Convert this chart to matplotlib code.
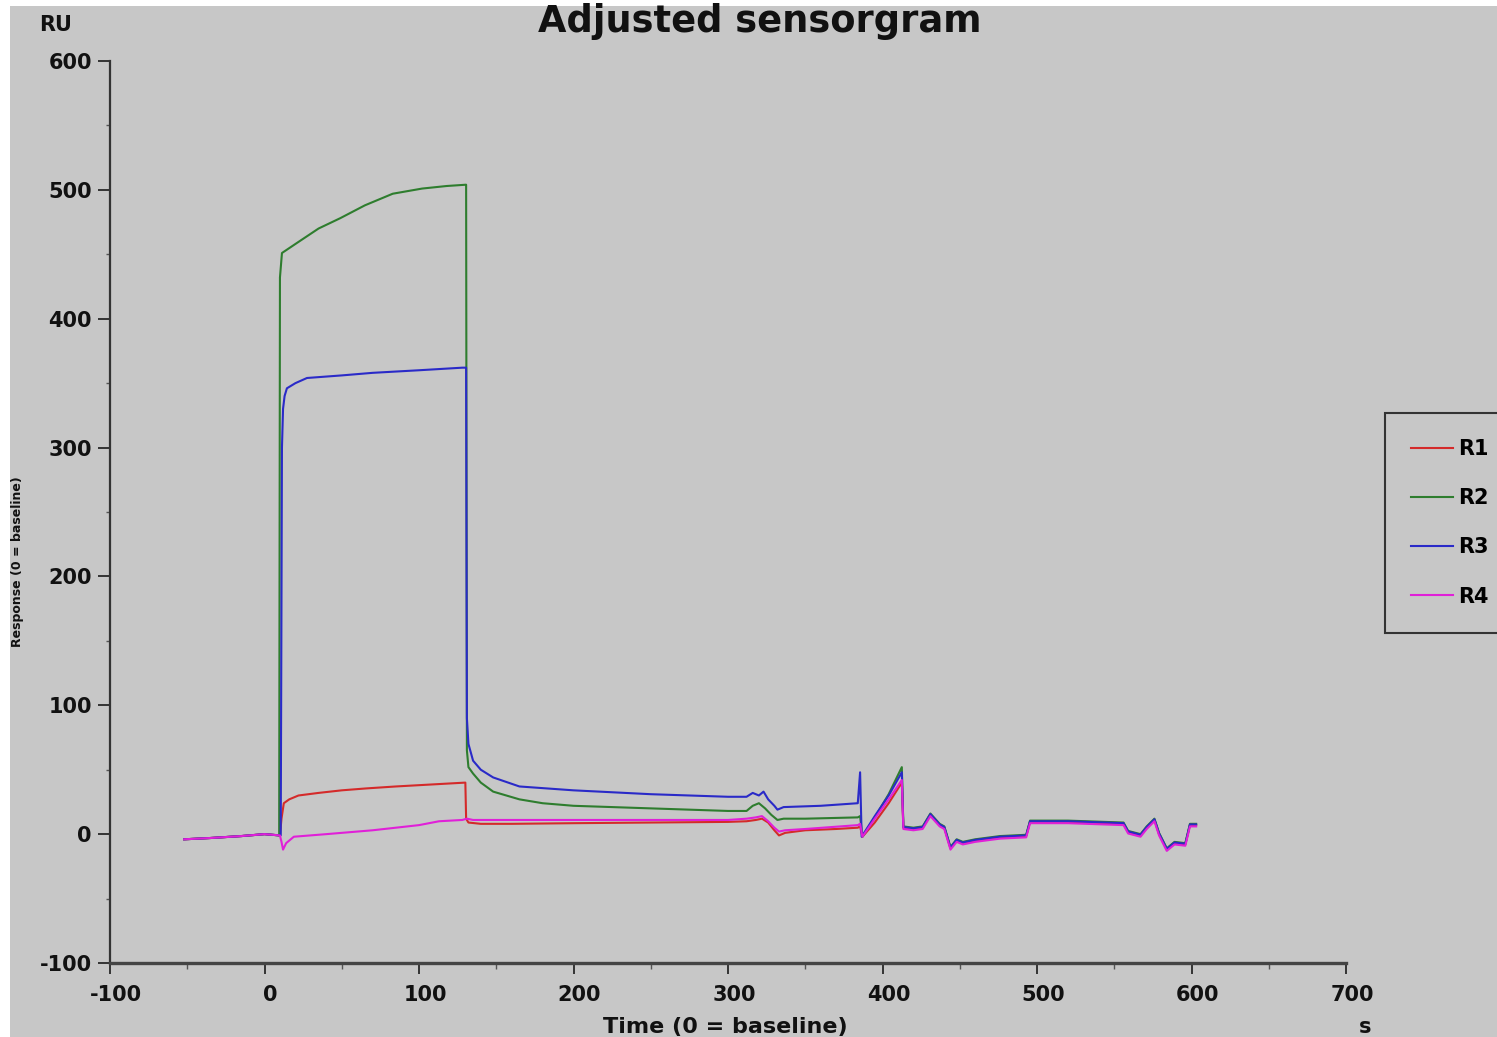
import numpy as np
import matplotlib
matplotlib.use("Agg")
import matplotlib.pyplot as plt
from matplotlib.patches import Rectangle
from matplotlib.ticker import MultipleLocator
import matplotlib.transforms as mtransforms

t_r1 = [-52, -35, -15, 0, 5, 10, 11, 12.5, 16, 22, 35, 50, 66, 85, 100, 115, 130, 130.5, 132, 140,
        160, 200, 250, 300, 312, 318, 322, 326, 330, 333, 337, 350, 370, 384, 385.5, 387, 395, 404, 412.5]
r1 = [-4, -3, -1.5, 0, -0.5, -1, 12, 24, 27, 30, 32, 34, 35.5, 37, 38, 39, 40, 12, 9, 8,
      8, 8.5, 9, 9.5, 10, 11, 12, 9, 3, -1, 1, 3, 4, 5, 6, -2, 9, 24, 40]

t_r2 = [-52, -35, -15, 0, 5, 9.5, 10, 11.3, 20, 35, 49, 65, 83, 102, 118, 130.5, 131, 132, 135, 140,
        148, 165, 180, 200, 250, 300, 312, 316, 320, 324, 328, 332, 336, 350, 384, 385.5, 387, 395, 404, 412.5]
r2 = [-4, -3, -1.5, 0, -0.5, -1, 432, 451, 458, 470, 478, 488, 497, 501, 503, 504, 65, 52, 47, 40,
      33, 27, 24, 22, 20, 18, 18, 22, 24, 20, 15, 11, 12, 12, 13, 14, -2, 13, 31, 52]

t_r3 = [-52, -35, -15, 0, 5, 10.5, 11.3, 12, 13, 14.5, 20, 27.5, 50, 70, 100, 128, 130.5, 131, 132, 135,
        140, 148, 165, 200, 250, 300, 312, 316, 320, 323, 326, 330, 332, 336, 360, 384, 385.5, 386.5, 395, 404, 412.5]
r3 = [-4, -3, -1.5, 0, -0.5, -1, 300, 330, 340, 346, 350, 354, 356, 358, 360, 362, 362, 90, 70, 57,
      50, 44, 37, 34, 31, 29, 29, 32, 30, 33, 27, 22, 19, 21, 22, 24, 48, -2, 14, 30, 48]

t_r4 = [-52, -35, -15, 0, 5, 10, 11, 12, 14, 19, 40, 70, 100, 113, 128, 131, 135, 150, 200, 250,
        300, 312, 318, 322, 326, 330, 333, 337, 350, 384, 385.5, 387, 395, 404, 412.5]
r4 = [-4, -3, -1.5, 0, -0.5, -1, -6, -12, -7, -2, 0, 3, 7, 10, 11, 12, 11, 11, 11, 11,
      11, 12, 13, 14, 10, 5, 2, 3, 4, 7, 8, -2, 12, 27, 42]

# parte final (regeneracion), casi igual para las 4 curvas
t_tail = [413.5, 420, 426, 431, 437, 440, 444, 448, 452, 460, 476, 493, 495.5, 520, 556, 559,
          567, 571, 576, 579, 584, 589, 596, 599, 603]
tail_r1 = [5, 4, 5, 15, 7, 5, -11, -5, -7, -5, -2.5, -1.5, 9.5, 9.5, 8, 1.5, -1, 5, 11, 0, -12, -7, -8, 7, 7]
tail_r2 = [6, 5, 6, 16, 8, 6, -10, -4, -6, -4, -1.5, -0.5, 10.5, 10.5, 9, 2.5, 0, 6, 12, 1, -11, -6, -7, 8, 8]
tail_r3 = [5.5, 4.5, 5.5, 15.5, 7.5, 5.5, -10.5, -4.5, -6.5, -4.5, -2, -1, 10, 10, 8.5, 2, -0.5, 5.5, 11.5,
           0.5, -11.5, -6.5, -7.5, 7.5, 7.5]
tail_r4 = [4, 3, 4, 14, 6, 4, -12, -6, -8, -6, -3.5, -2.5, 8.5, 8.5, 7, 0.5, -2, 4, 10, -1, -13, -8, -9, 6, 6]

labels = ["R1", "R2", "R3", "R4"]
colors = ["#d42a2a", "#2e7d2e", "#2a2ac8", "#e020d8"]

plt.rcParams['font.family'] = ['DejaVu Sans']
plt.rcParams['axes.unicode_minus'] = False

gris = "#c7c7c7"
W, H = 1497, 1037
fig = plt.figure(figsize=(W / 100, H / 100), dpi=100, facecolor="white")
fig.patches.append(Rectangle((10 / W, 0), 1, 1 - 6 / H, transform=fig.transFigure,
                             facecolor=gris, edgecolor="none", zorder=-10))

ax = fig.add_axes([110 / W, 74 / H, 1236 / W, 902 / H])
ax.set_facecolor(gris)

series = [(t_r1, r1, tail_r1), (t_r2, r2, tail_r2), (t_r3, r3, tail_r3), (t_r4, r4, tail_r4)]
for (tt, yy, tail), lab, c in zip(series, labels, colors):
    ax.plot(np.concatenate([tt, t_tail]), np.concatenate([yy, tail]), color=c, lw=1.5, label=lab)

ax.set_xlim(-100, 700)
ax.set_ylim(-100, 600)
ax.xaxis.set_major_locator(MultipleLocator(100))
ax.xaxis.set_minor_locator(MultipleLocator(50))
ax.yaxis.set_major_locator(MultipleLocator(100))
ax.yaxis.set_minor_locator(MultipleLocator(50))

for s in ["top", "right"]:
    ax.spines[s].set_visible(False)
ax.spines["left"].set_color("#333333")
ax.spines["left"].set_linewidth(1.6)
ax.spines["bottom"].set_color("#444444")
ax.spines["bottom"].set_linewidth(2.4)

ax.tick_params(axis="x", which="major", direction="out", length=8, width=1.4, color="#333333",
               pad=8, labelsize=15, labelcolor="#111111")
ax.tick_params(axis="x", which="minor", direction="out", length=4, width=1.0, color="#555555")
ax.tick_params(axis="y", which="major", direction="out", length=9, width=1.4, color="#333333",
               pad=4, labelsize=15, labelcolor="#111111")
ax.tick_params(axis="y", which="minor", direction="out", length=3, width=1.0, color="#555555")
for lbl in ax.get_xticklabels() + ax.get_yticklabels():
    lbl.set_fontweight("bold")
off = mtransforms.ScaledTranslation(6 / 100, 0, fig.dpi_scale_trans)
for lbl in ax.get_xticklabels():
    lbl.set_transform(lbl.get_transform() + off)

fig.text(760 / W, 1 - 22 / H, "Adjusted sensorgram", ha="center", va="center",
         fontsize=26.5, fontweight="bold", color="#111111")
fig.text(56 / W, 1 - 25 / H, "RU", ha="center", va="center", fontsize=15, fontweight="bold", color="#111111")
fig.text(725 / W, 1 - 1027 / H, "Time (0 = baseline)", ha="center", va="center",
         fontsize=16, fontweight="bold", color="#111111")
fig.text(1365 / W, 1 - 1027 / H, "s", ha="center", va="center", fontsize=15, fontweight="bold", color="#111111")
fig.text(18 / W, 1 - 562 / H, "Response (0 = baseline)", ha="center", va="center", rotation=90,
         fontsize=9, fontweight="bold", color="#111111")

leg = ax.legend(loc="upper left", bbox_to_anchor=(1385 / W, 1 - 413 / H), bbox_transform=fig.transFigure,
                borderaxespad=0, frameon=True, fancybox=False, borderpad=1.25, handlelength=2.0,
                handletextpad=0.25, labelspacing=1.4, prop={"weight": "bold", "size": 15})
leg.get_frame().set_facecolor(gris)
leg.get_frame().set_edgecolor("#333333")
leg.get_frame().set_linewidth(1.5)
leg.get_frame().set_alpha(1)

fig.savefig("out.png", dpi=100, facecolor=fig.get_facecolor())
